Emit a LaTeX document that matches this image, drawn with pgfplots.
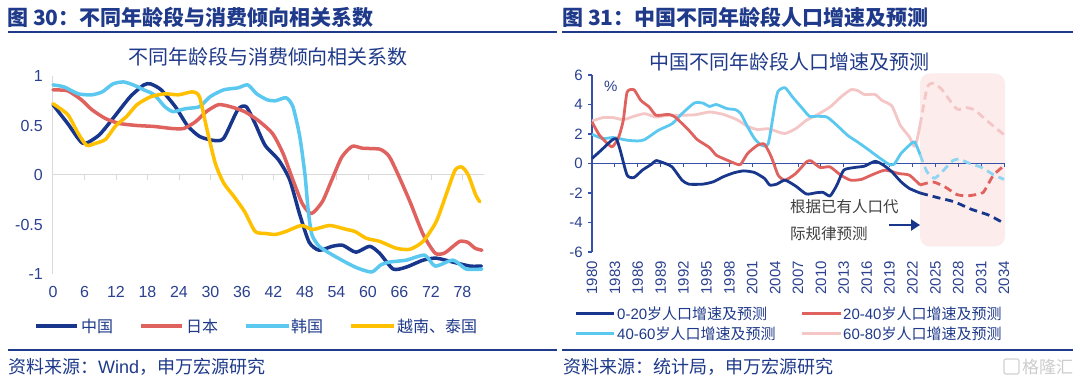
\documentclass[border=0pt]{standalone}
\usepackage{pgfplots}
\pgfplotsset{compat=1.18}
\usepackage{fontspec}
\setmainfont{Liberation Sans}
\newfontfamily\cjk{Noto Sans CJK SC}
\usetikzlibrary{arrows.meta}
\definecolor{navy}{HTML}{17368C}
\definecolor{jred}{HTML}{E0625F}
\definecolor{kblue}{HTML}{5BC8F0}
\definecolor{kbluel}{HTML}{8DD5F0}
\definecolor{vgold}{HTML}{FFC000}
\definecolor{opink}{HTML}{F5C6C6}
\definecolor{titleblue}{HTML}{1F3A8A}
\definecolor{tickblue}{HTML}{2B4190}
\definecolor{axisgray}{HTML}{D9D9D9}
\definecolor{axisblue}{HTML}{3550A6}
\definecolor{pinkbg}{HTML}{FCECEC}
\definecolor{notegray}{HTML}{404040}

\begin{document}
\begin{tikzpicture}[x=1pt,y=1pt]
\path[fill=white] (0,0) rectangle (1080,383);
% headers
\node[anchor=west,inner sep=0,text=titleblue,font=\cjk\bfseries\fontsize{21}{25}\selectfont] at (7,366) {图 30：不同年龄段与消费倾向相关系数};
\node[anchor=west,inner sep=0,text=titleblue,font=\cjk\bfseries\fontsize{21}{25}\selectfont] at (562,366) {图 31：中国不同年龄段人口增速及预测};
\draw[titleblue,line width=2pt] (8,351) -- (557,351);
\draw[titleblue,line width=2pt] (562,351) -- (1073,351);
\draw[titleblue,line width=2pt] (8,33) -- (557,33);
\draw[titleblue,line width=2pt] (562,33) -- (1073,33);
\node[anchor=west,inner sep=0,text=titleblue,font=\cjk\fontsize{18}{21}\selectfont] at (8,16) {资料来源：{\rmfamily Wind}，申万宏源研究};
\node[anchor=west,inner sep=0,text=titleblue,font=\cjk\fontsize{18}{21}\selectfont] at (563,16) {资料来源：统计局，申万宏源研究};
% watermark
\draw[gray!35,line width=1.2pt,rounded corners=2pt] (1004,9) rectangle (1019,24);
\node[anchor=west,inner sep=0,text=gray!40,font=\cjk\fontsize{17}{20}\selectfont] at (1022,16) {格隆汇};
% subtitles
\node[inner sep=0,text=titleblue,font=\cjk\fontsize{20}{24}\selectfont] at (268,326) {不同年龄段与消费倾向相关系数};
\node[inner sep=0,text=titleblue,font=\cjk\fontsize{20}{24}\selectfont] at (789,321) {中国不同年龄段人口增速及预测};

% left zero line and its ticks (decoration)
\draw[axisgray,line width=1pt] (53,208) -- (483.5,208);
\foreach \k in {1,...,13}{\draw[axisgray,line width=1pt] ({53+\k*6*5.25},208) -- ++(0,-5);}

% ---------------- left chart
\begin{axis}[at={(53pt,109pt)},anchor=south west,scale only axis,width=430.5pt,height=198pt,
xmin=0,xmax=82,ymin=-1,ymax=1,
axis y line*=left, axis x line*=bottom,
x axis line style={draw=none}, y axis line style={draw=axisgray,line width=1pt},
xtick={0,6,...,78}, ytick={-1,-0.5,0,0.5,1},
major tick length=0pt, tick style={draw=none},
/pgf/number format/assume math mode=true,
tick label style={font=\fontsize{16}{19}\selectfont, text=tickblue},
xticklabel style={anchor=north,inner sep=0pt,yshift=-12pt},
yticklabel style={anchor=east,inner sep=0pt,xshift=-10pt},
clip=false,
every axis plot/.append style={line width=3.5pt, smooth, tension=0.4, line join=round, line cap=round},
]
\addplot[navy] coordinates {(0,0.71) (2.8,0.52) (5.7,0.32) (8.7,0.40) (11.4,0.57) (14.7,0.79) (17.3,0.91) (18.6,0.92) (20.6,0.86) (23.3,0.69) (25.6,0.50) (27.9,0.39) (30.5,0.35) (32.5,0.37) (35.2,0.66) (36.8,0.69) (38.5,0.52) (40.4,0.30) (43.0,0.15) (45.1,-0.05) (47.0,-0.40) (48.8,-0.68) (50.7,-0.76) (53.2,-0.72) (55.2,-0.71) (57.7,-0.78) (60.3,-0.72) (62.2,-0.79) (64.8,-0.95) (67.3,-0.93) (70.5,-0.86) (73.0,-0.84) (76.2,-0.88) (79.4,-0.92) (81.6,-0.92)};
\addplot[jred] coordinates {(0,0.86) (2.8,0.85) (5.4,0.76) (7.4,0.66) (10,0.57) (12.7,0.52) (16,0.50) (19.3,0.49) (22.6,0.47) (24.9,0.47) (27.2,0.54) (29.2,0.64) (31.5,0.71) (33.8,0.69) (36.5,0.64) (39.1,0.55) (41.8,0.42) (43.8,0.22) (45.7,-0.05) (47.5,-0.29) (49.2,-0.39) (51.3,-0.27) (53.1,-0.05) (55.0,0.18) (57.0,0.29) (59.0,0.27) (62.3,0.26) (64.0,0.19) (65.6,0.02) (68.0,-0.27) (70.5,-0.6) (72.8,-0.79) (74.5,-0.79) (76.0,-0.73) (77.5,-0.67) (79.0,-0.68) (80.4,-0.74) (81.7,-0.76)};
\addplot[kblue] coordinates {(0,0.91) (2.1,0.89) (4.8,0.82) (7.4,0.81) (9.4,0.84) (11.4,0.92) (13.4,0.94) (15.3,0.91) (17.3,0.86) (19.3,0.81) (21.3,0.69) (22.9,0.64) (25.2,0.67) (27.9,0.69) (29.9,0.79) (32.5,0.86) (35.2,0.88) (37.1,0.91) (38.8,0.82) (40.8,0.76) (42.4,0.75) (44.4,0.78) (45.7,0.69) (47.0,0.39) (48.0,0.0) (48.6,-0.35) (49.3,-0.6) (50.7,-0.72) (53.0,-0.80) (55.7,-0.88) (58.0,-0.94) (60.7,-0.98) (62.4,-0.91) (64.0,-0.88) (67.3,-0.86) (70.8,-0.81) (72.8,-0.92) (76.2,-0.86) (78.7,-0.95) (81.7,-0.95)};
\addplot[vgold] coordinates {(0,0.72) (2.8,0.61) (4.8,0.42) (6.4,0.30) (8.1,0.32) (10,0.36) (12,0.50) (14,0.59) (16,0.71) (18.6,0.79) (21.3,0.82) (23.9,0.81) (26.6,0.84) (27.9,0.79) (29.2,0.49) (30.9,0.12) (32.5,-0.08) (34.5,-0.22) (36.5,-0.37) (38.5,-0.57) (40.4,-0.59) (42.4,-0.60) (44.4,-0.57) (47.3,-0.51) (49.5,-0.55) (52.7,-0.51) (55.9,-0.55) (57.5,-0.57) (59.7,-0.64) (62.2,-0.67) (65.4,-0.74) (68.0,-0.75) (70.5,-0.67) (73.0,-0.47) (75.0,-0.18) (76.6,0.05) (77.9,0.08) (79.1,0.0) (80.5,-0.2) (81.3,-0.27)};
\end{axis}

% left legend
\draw[navy,line width=4pt] (36,57) -- (77,57);
\node[anchor=west,inner sep=0,font=\cjk\fontsize{16}{19}\selectfont,text=titleblue] at (81,57) {中国};
\draw[jred,line width=4pt] (141,57) -- (182,57);
\node[anchor=west,inner sep=0,font=\cjk\fontsize{16}{19}\selectfont,text=titleblue] at (186,57) {日本};
\draw[kblue,line width=4pt] (246,57) -- (289,57);
\node[anchor=west,inner sep=0,font=\cjk\fontsize{16}{19}\selectfont,text=titleblue] at (291,57) {韩国};
\draw[vgold,line width=4pt] (351,57) -- (394,57);
\node[anchor=west,inner sep=0,font=\cjk\fontsize{16}{19}\selectfont,text=titleblue] at (397,57) {越南、泰国};

% right background box, zero line and its ticks (decoration)
\fill[pinkbg,rounded corners=10pt] (920,309.5) rectangle (1005,136.5);
\draw[axisblue,line width=1.2pt] (592,219.5) -- (1005,219.5);
\foreach \k in {1,...,18}{\draw[axisblue,line width=1pt] ({592+\k*3*7.6296},219.5) -- ++(0,-4);}

% ---------------- right chart (x = year - 1980)
\begin{axis}[at={(592pt,131pt)},anchor=south west,scale only axis,width=412pt,height=177pt,
xmin=0,xmax=54,ymin=-6,ymax=6,clip=false,
x filter/.code={\pgfmathparse{#1-1980}},
axis y line*=left, axis x line*=bottom,
x axis line style={draw=none}, y axis line style={draw=axisblue,line width=1.2pt},
xtick={0,3,...,54},
xticklabels={1980,1983,1986,1989,1992,1995,1998,2001,2004,2007,2010,2013,2016,2019,2022,2025,2028,2031,2034},
ytick={-6,-4,...,6},
xtick style={draw=none}, ytick style={draw=axisblue,line width=1.2pt}, tick align=outside, major tick length=4pt,
/pgf/number format/assume math mode=true,
tick label style={font=\fontsize{15}{18}\selectfont,text=tickblue},
xticklabel style={rotate=90,anchor=east,inner xsep=5pt,inner ysep=0pt},
yticklabel style={anchor=east,inner sep=0pt,xshift=-5pt},
every axis plot/.append style={line width=2.8pt, smooth, tension=0.35, line join=round},
]
% 60-80
\addplot[opink] coordinates {(1980,2.88) (1981.4,3.11) (1982.8,3.11) (1984.1,2.97) (1985.5,3.2) (1986.9,3.38) (1988.4,3.15) (1990,3.27) (1991.8,3.27) (1993.6,3.31) (1995.4,3.49) (1997.2,3.33) (1999,2.97) (2000.4,2.52) (2001.7,2.3) (2003.1,2.36) (2004.4,2.14) (2005.3,2.03) (2006.7,2.36) (2008.1,2.93) (2009.4,3.27) (2011.2,3.83) (2012.6,4.5) (2013.9,5.0) (2014.8,4.95) (2015.7,4.68) (2017.1,4.68) (2018,4.28) (2019.3,3.9) (2020.4,2.6) (2021.6,1.8) (2022.2,1.17) (2022.6,1.6) (2023,2.6)};
\addplot[opink,dash pattern=on 8pt off 5pt] coordinates {(2023,2.6) (2023.9,5.1) (2024.6,5.45) (2025.8,5.05) (2027.8,3.7) (2029.1,3.79) (2030.2,3.61) (2031.7,2.93) (2034,1.95)};
% 40-60
\addplot[kblue] coordinates {(1980,1.98) (1981.4,1.69) (1982.8,1.76) (1984.6,1.58) (1986,1.53) (1986.9,1.62) (1988.7,2.25) (1990.5,2.7) (1991.8,3.38) (1993.4,4.1) (1994.5,4.1) (1995.4,3.87) (1996.3,4.0) (1997.7,3.72) (1998.8,3.65) (1999.5,3.38) (2000.4,2.48) (2001.3,1.69) (2002.2,1.24) (2003.1,1.35) (2004,4.05) (2004.4,4.91) (2005.3,5.14) (2006.3,4.5) (2007.6,3.72) (2008.5,3.2) (2009.4,3.2) (2010.8,3.15) (2012.1,2.59) (2013.5,1.91) (2014.8,1.46) (2016.2,0.95) (2017.5,0.45) (2018.9,-0.05) (2019.6,-0.05) (2020.5,0.68) (2021.6,1.24) (2022.3,1.46) (2023,0.6)};
\addplot[kbluel,dash pattern=on 8pt off 5pt] coordinates {(2023,0.6) (2023.9,-0.56) (2024.9,-1.0) (2026,-0.5) (2027.3,0.2) (2028.2,0.29) (2029.5,0) (2030.9,-0.23) (2032.6,-0.75) (2034,-1.08)};
% 20-40
\addplot[jred] coordinates {(1980,2.82) (1981,1.91) (1982.6,1.13) (1983.5,1.8) (1984.1,2.93) (1984.6,4.84) (1985.5,5.0) (1986.4,4.28) (1987.5,3.83) (1988.4,3.27) (1990,3.33) (1990.9,3.15) (1992.7,2.25) (1993.8,1.62) (1995.4,1.08) (1996.3,0.56) (1997.7,0.23) (1999,-0.05) (1999.5,-0.05) (2000.4,0.68) (2001.7,1.24) (2002.6,1.31) (2003.5,0.45) (2004.4,-0.79) (2005.3,-1.13) (2006.7,-0.68) (2008.1,0.11) (2008.7,0.18) (2009.9,-0.27) (2011.2,-0.23) (2012.6,-0.79) (2013.9,-1.13) (2015.3,-1.08) (2016.6,-0.79) (2018.4,-0.45) (2020.2,-0.68) (2021.6,-0.79) (2023,-1.46)};
\addplot[jred,dash pattern=on 8pt off 5pt] coordinates {(2023,-1.46) (2024.7,-1.25) (2026.3,-1.6) (2027.8,-2.1) (2029.1,-2.2) (2030.4,-2.1) (2031.3,-1.95) (2032.6,-0.8) (2034,-0.15)};
% 0-20
\addplot[navy] coordinates {(1980,0.34) (1981.2,0.9) (1982.6,1.58) (1983.2,1.67) (1983.7,0.9) (1984.6,-0.79) (1985.5,-0.95) (1986.6,-0.45) (1987.8,-0.05) (1988.4,0.2) (1989.6,0) (1990.5,-0.23) (1991.8,-1.13) (1992.7,-1.4) (1994.5,-1.4) (1995.9,-1.24) (1997.2,-0.9) (1998.6,-0.63) (1999.9,-0.5) (2001.3,-0.61) (2002.6,-1.01) (2003.3,-1.46) (2004.2,-1.4) (2005.3,-1.13) (2006.7,-1.53) (2008.1,-2.07) (2009.4,-1.98) (2010.3,-1.96) (2011.2,-2.2) (2012.1,-1.46) (2013,-0.45) (2014.4,-0.27) (2015.7,-0.18) (2017.1,0.15) (2018.2,-0.11) (2019.3,-0.56) (2020.5,-1.24) (2021.6,-1.69) (2023,-2.0)};
\addplot[navy,dash pattern=on 8pt off 5pt] coordinates {(2023,-2.0) (2025.2,-2.3) (2027.5,-2.6) (2029.7,-3.1) (2032,-3.5) (2034,-4.05)};
\end{axis}

% right annotations
\node[anchor=west,inner sep=0,font=\fontsize{15}{18}\selectfont,text=tickblue] at (604,297) {\%};
\node[anchor=west,inner sep=0,font=\cjk\fontsize{15.5}{18}\selectfont,text=notegray] at (790,176) {根据已有人口代};
\node[anchor=west,inner sep=0,font=\cjk\fontsize{15.5}{18}\selectfont,text=notegray] at (790,149) {际规律预测};
\draw[navy,line width=2.5pt,-{Triangle[length=9pt,width=11pt]}] (889,158) -- (920,158);

% right legend
\draw[navy,line width=3pt] (576,69) -- (614,69);
\node[anchor=west,inner sep=0,font=\fontsize{15}{18}\selectfont,text=titleblue] at (617,69) {0-20{\cjk 岁人口增速及预测}};
\draw[jred,line width=3pt] (802,69) -- (841,69);
\node[anchor=west,inner sep=0,font=\fontsize{15}{18}\selectfont,text=titleblue] at (843,69) {20-40{\cjk 岁人口增速及预测}};
\draw[kblue,line width=3pt] (576,49) -- (614,49);
\node[anchor=west,inner sep=0,font=\fontsize{15}{18}\selectfont,text=titleblue] at (617,49) {40-60{\cjk 岁人口增速及预测}};
\draw[opink,line width=3pt] (802,49) -- (841,49);
\node[anchor=west,inner sep=0,font=\fontsize{15}{18}\selectfont,text=titleblue] at (843,49) {60-80{\cjk 岁人口增速及预测}};
\end{tikzpicture}
\end{document}
